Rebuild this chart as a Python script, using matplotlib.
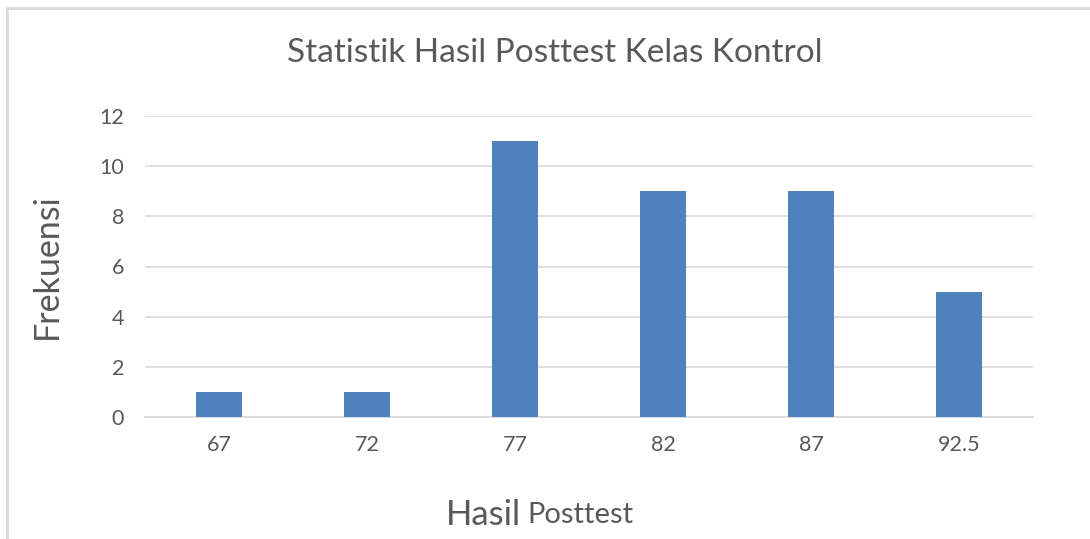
import matplotlib
matplotlib.use("Agg")
import matplotlib.pyplot as plt
from matplotlib.patches import Rectangle

categories = ["67", "72", "77", "82", "87", "92.5"]
frekuensi = [1, 1, 11, 9, 9, 5]
yticks = [0, 2, 4, 6, 8, 10, 12]

plt.rcParams['font.family'] = ['Lato', 'DejaVu Sans']
W, H = 1090, 539
fig = plt.figure(figsize=(W/100, H/100), dpi=100)
ax = fig.add_axes([145/W, 1-417/H, (1033-145)/W, (417-116)/H])

x = list(range(len(categories)))
ax.bar(x, frekuensi, width=0.31, color="#4F81BD", zorder=3)
ax.set_xlim(-0.5, len(categories)-0.5)
ax.set_ylim(0, 12)
ax.set_yticks(yticks)
ax.set_xticks(x)
ax.set_xticklabels(categories)
ax.yaxis.grid(True, color="#D9D9D9", linewidth=1.2, zorder=0)
for s in ["top", "right", "left"]:
    ax.spines[s].set_visible(False)
ax.spines["bottom"].set_color("#D9D9D9")
ax.spines["bottom"].set_linewidth(1.2)
ax.tick_params(axis="both", length=0, labelsize=15.5, colors="#595959")
ax.tick_params(axis="x", pad=13)
ax.tick_params(axis="y", pad=15)

fig.text(555/W, 1-53/H, "Statistik Hasil Posttest Kelas Kontrol", ha="center", va="center",
         fontsize=24, color="#595959")
fig.text(47/W, 1-266/H, "Frekuensi", rotation=90, ha="center", va="center",
         fontsize=24.5, color="#595959")
fig.text(521/W, 1-515/H, "Hasil", ha="right", va="center", fontsize=25, color="#595959")
fig.text(527/W, 1-515/H, "Posttest", ha="left", va="center", fontsize=21, color="#595959")

fig.patches.append(Rectangle((7/W, -0.1), 1.2, 1-8/H+0.1, transform=fig.transFigure,
                             fill=False, edgecolor="#D9D9D9", linewidth=2))

fig.savefig("out.png", dpi=100, facecolor="white")
